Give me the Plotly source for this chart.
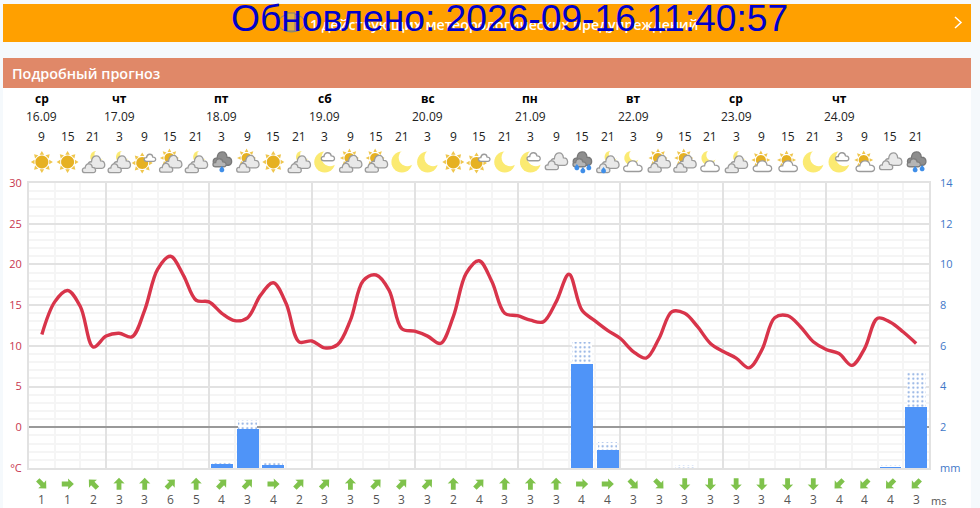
"""Подробный прогноз: температура, осадки, ветер (воссоздание графика)."""
import numpy as np
import plotly.graph_objects as go

W, H = 980, 508
PLOT_L, PLOT_R, PLOT_T, PLOT_B = 29, 929, 183, 468
FONT = "Open Sans"

# forecast steps (6 h apart, first one = 16.09 9:00)
hour_labels = [9, 15, 21, 3, 9, 15, 21, 3, 9, 15, 21, 3, 9, 15, 21, 3, 9, 15,
               21, 3, 9, 15, 21, 3, 9, 15, 21, 3, 9, 15, 21, 3, 9, 15, 21]
day_names = ["ср", "чт", "пт", "сб", "вс", "пн", "вт", "ср", "чт"]
day_dates = ["16.09", "17.09", "18.09", "19.09", "20.09", "21.09", "22.09", "23.09", "24.09"]
day_steps = [0, 3, 7, 11, 15, 19, 23, 27, 31]

# temperature, every 3 h
temperature = [11.4, 15.4, 16.8, 14.8, 9.85, 11.2, 11.55, 11.1, 14.4, 19.4, 21.0, 18.7,
               15.6, 15.4, 14.0, 13.1, 13.45, 16.2, 17.75, 15.2, 10.5, 10.6, 9.75, 10.15,
               13.15, 18.0, 18.7, 16.85, 12.1, 11.8, 11.2, 10.3, 13.6, 18.9, 20.45, 17.9,
               14.0, 13.7, 13.15, 12.95, 15.4, 18.8, 14.4, 13.1, 11.9, 10.9, 9.3, 8.5,
               10.9, 14.2, 14.0, 12.35, 10.3, 9.3, 8.5, 7.3, 9.5, 13.45, 13.7, 12.35,
               10.5, 9.55, 9.05, 7.6, 9.7, 13.4, 12.9, 11.7, 10.3]

# precipitation, mm: solid part and dotted part on top of it
rain_solid = [0, 0, 0, 0, 0, 0, 0, 0.2, 1.9, 0.15, 0, 0, 0, 0, 0, 0, 0, 0,
              0, 0, 0, 5.1, 0.9, 0, 0, 0, 0, 0, 0, 0, 0, 0, 0, 0.03, 3.0]
rain_dotted = [0, 0, 0, 0, 0, 0, 0, 0.1, 0.45, 0.2, 0, 0, 0, 0, 0, 0, 0, 0,
               0, 0, 0, 1.1, 0.4, 0, 0, 0.13, 0, 0, 0, 0, 0, 0, 0, 0.1, 1.7]

wind_speed = [1, 1, 2, 3, 3, 6, 5, 4, 3, 4, 2, 3, 3, 5, 3, 3, 2, 4,
              3, 3, 3, 4, 4, 3, 3, 3, 3, 3, 3, 4, 3, 4, 4, 4, 3]
wind_dir = [135, 90, 315, 0, 0, 45, 0, 45, 45, 90, 45, 45, 0, 45, 45, 45, 0, 45,
            0, 0, 0, 90, 90, 135, 135, 180, 180, 180, 180, 180, 180, 225, 225, 225, 225]
weather = ["sun", "sun", "night_clouds", "night_clouds", "sun_small_cloud", "sun_clouds",
           "night_clouds", "rain1", "sun_clouds", "sun", "night_clouds", "moon_small",
           "sun_clouds", "sun_clouds", "moon", "moon", "sun", "sun_small_cloud", "moon",
           "moon_small", "clouds", "rain3", "night_rain", "moon_cloud", "sun_clouds",
           "sun_clouds", "moon_cloud", "night_clouds", "sun_cloud", "sun_cloud", "moon",
           "moon_small", "sun_cloud", "clouds", "rain2"]

temp_ticks = [-5, 0, 5, 10, 15, 20, 25, 30]
temp_labels = ["°C", "0", "5", "10", "15", "20", "25", "30"]
rain_ticks = [0, 2, 4, 6, 8, 10, 12, 14]
rain_labels = ["mm", "2", "4", "6", "8", "10", "12", "14"]

step_hours = [i * 6 for i in range(len(hour_labels))]
temp_hours = [i * 3 for i in range(len(temperature))]

RED = "#d8344a"
SUN = "#e6b122"
RAY = "#efc64d"
MOON = "#fbea72"
CLOUD = "#e9e9e9"
CLOUD_EDGE = "#9b9b9b"
DARK = "#8e8e8e"
DROP = "#3f8ee8"
ARROW = "#7fc24c"


def px_x(x):
    return x / W


def px_y(y):
    return 1 - y / H


def poly(points):
    return "M" + "L".join(f"{x:.2f},{y:.2f}" for x, y in points) + "Z"


def circle(cx, cy, r, n=28):
    a = np.linspace(0, 2 * np.pi, n, endpoint=False)
    return poly(zip(cx + r * np.cos(a), cy + r * np.sin(a)))


def cloud(cx, cy, w, h):
    pts = [(-0.42, -0.5), (-0.78, -0.5), (-0.78, 0.12), (-0.42, 0.06), (-0.36, 0.72), (0.24, 0.72),
           (0.3, 0.14), (0.72, 0.16), (0.72, -0.5), (0.4, -0.5)]
    s = [(cx + x * w / 1.5 * 1.0, cy + y * h / 1.2) for x, y in pts]
    f = lambda p: f"{p[0]:.2f},{p[1]:.2f}"
    return (f"M{f(s[0])}C{f(s[1])} {f(s[2])} {f(s[3])}C{f(s[4])} {f(s[5])} {f(s[6])}"
            f"C{f(s[7])} {f(s[8])} {f(s[9])}Z")


def drop(cx, cy, r=2.4):
    a = np.linspace(-0.2 * np.pi, 1.2 * np.pi, 12) + np.pi
    pts = [(cx, cy + r * 1.7)] + list(zip(cx + r * np.cos(a), cy + r * np.sin(a)))
    return poly(pts)


shapes = []


def add(path, hour, yc, fill, edge=None, width=1.3):
    shapes.append(dict(type="path", path=path, xref="x", yref="paper", xsizemode="pixel",
                       ysizemode="pixel", xanchor=hour, yanchor=px_y(yc), fillcolor=fill,
                       line=dict(color=edge or fill, width=width if edge else 0), layer="above"))


def draw_sun(hour, cx=0.0, cy=0.0, r=6.5):
    rays = ""
    for a in np.arange(8) * np.pi / 4:
        rays += poly([(cx + (r + 4.5) * np.cos(a), cy + (r + 4.5) * np.sin(a)),
                      (cx + (r + 1.2) * np.cos(a + 0.3), cy + (r + 1.2) * np.sin(a + 0.3)),
                      (cx + (r + 1.2) * np.cos(a - 0.3), cy + (r + 1.2) * np.sin(a - 0.3))])
    add(rays, hour, 162, RAY)
    add(circle(cx, cy, r), hour, 162, SUN)


def draw_moon(hour, cx=0.0, cy=0.0, r=10.5):
    add(circle(cx, cy, r), hour, 162, MOON)
    add(circle(cx + r * 0.52, cy + r * 0.42, r * 0.82), hour, 162, "white")


def draw_clouds(hour, fill=CLOUD, edge=CLOUD_EDGE, dy=0.0):
    add(cloud(3.5, 1.5 + dy, 19, 14), hour, 162, fill, edge)
    add(cloud(-4, -4.5 + dy, 15, 10), hour, 162, fill, edge)


def draw_icon(kind, hour):
    if kind == "sun":
        draw_sun(hour)
    elif kind == "moon":
        draw_moon(hour)
    elif kind == "sun_small_cloud":
        draw_sun(hour, -2.5, -1, 6)
        add(cloud(5.5, 4, 13, 8), hour, 162, "white", CLOUD_EDGE)
    elif kind == "sun_clouds":
        draw_sun(hour, -1, 4, 5)
        draw_clouds(hour, dy=-1.5)
    elif kind == "sun_cloud":
        draw_sun(hour, -1, 2, 5)
        add(cloud(1, -4.5, 21, 12), hour, 162, "white", CLOUD_EDGE)
    elif kind in ("night_clouds", "night_rain"):
        draw_moon(hour, 3, 5, 6)
        draw_clouds(hour, dy=-2)
        if kind == "night_rain":
            add(drop(-4, -9), hour, 162, DROP)
    elif kind == "moon_small":
        draw_moon(hour)
        add(cloud(3.5, 5, 15, 9), hour, 162, "white", CLOUD_EDGE)
    elif kind == "moon_cloud":
        draw_moon(hour, -2, 4, 7)
        add(cloud(0, -4.5, 21, 12), hour, 162, "white", CLOUD_EDGE)
    elif kind == "clouds":
        draw_clouds(hour, dy=1)
    elif kind.startswith("rain"):
        add(cloud(1, 3, 21, 15), hour, 162, DARK, "#777777")
        add(cloud(-2, -1, 15, 9), hour, 162, "#b5b5b5", "#808080")
        spots = {"rain1": [(0, -8)], "rain2": [(-1, -8), (6, -7)], "rain3": [(-5, -6), (1, -9), (7, -6)]}
        for x, y in spots[kind]:
            add(drop(x, y), hour, 162, DROP)


def draw_arrow(hour, angle):
    a = np.radians(angle)
    pts = [(0, 6.3), (-5.6, 0.4), (-2.4, 0.7), (-2.4, -5.8), (2.4, -5.8), (2.4, 0.7), (5.6, 0.4)]
    add(poly((x * np.cos(a) + y * np.sin(a), -x * np.sin(a) + y * np.cos(a)) for x, y in pts),
        hour, 484, ARROW)


def rect(x0, y0, x1, y1, color):
    return dict(type="rect", xref="paper", yref="paper", x0=px_x(x0), x1=px_x(x1), y0=px_y(y1), y1=px_y(y0),
                fillcolor=color, line_width=0, layer="below")


def label(x, y, text, size=12, color="#222222", xref="x", anchor="center", weight=400, family=FONT):
    return dict(x=x if xref == "x" else px_x(x), y=px_y(y), xref=xref, yref="paper", text=text, showarrow=False,
                xanchor=anchor, yanchor="middle", font=dict(size=size, color=color, family=family, weight=weight))


shapes += [rect(3, 88, 971, 508, "white"), rect(3, 4, 971, 42, "#ffa000"), rect(3, 58, 971, 88, "#e08868")]
for kind, hour in zip(weather, step_hours):
    draw_icon(kind, hour)
for angle, hour in zip(wind_dir, step_hours):
    draw_arrow(hour, angle)

# banner icon and chevron
shapes.append(dict(type="circle", xref="paper", yref="paper", x0=px_x(278), x1=px_x(305), y0=px_y(32), y1=px_y(14),
                   fillcolor="rgba(0,0,0,0)", line=dict(color="#7a8a80", width=1), layer="above"))
shapes.append(dict(type="rect", xref="paper", yref="paper", x0=px_x(286), x1=px_x(295), y0=px_y(31), y1=px_y(13),
                   fillcolor="#e0b040", line=dict(color="#7a7f80", width=1), layer="above"))
shapes.append(dict(type="path", xref="paper", yref="paper", layer="above", line=dict(color="white", width=1.5),
                   path=f"M{px_x(955)},{px_y(17)}L{px_x(961)},{px_y(22.5)}L{px_x(955)},{px_y(28)}"))

annotations = [
    label(308, 24, "1 действующих метеорологических предупреждений", 14.2, "white", "paper", "left", 600),
    label(509, 18, "Обновлено: 2026-09-16 11:40:57", 37.2, "#0000cc", "paper", family="Liberation Sans"),
    label(10, 74, "Подробный прогноз", 14.4, "white", "paper", "left", 600),
    label(938, 500, "ms", 11, "#555555", "paper", "center"),
]
for step, name, date in zip(day_steps, day_names, day_dates):
    annotations.append(label(step_hours[step], 98.5, name, 12, "#000000", weight=700))
    annotations.append(label(step_hours[step], 116, date, 12, "#222222"))
for hour, text in zip(step_hours, hour_labels):
    annotations.append(label(hour, 136.5, str(text), 12, "#222222"))
for hour, speed in zip(step_hours, wind_speed):
    annotations.append(label(hour, 499.5, str(speed), 12, "#555555"))

fig = go.Figure()
fig.add_trace(go.Bar(x=step_hours, y=rain_solid, yaxis="y2", width=5.1, marker=dict(color="#4f94f8", line_width=0)))
fig.add_trace(go.Bar(x=step_hours, y=rain_dotted, yaxis="y2", width=4.5,
                     marker=dict(color="white", line_width=0,
                                 pattern=dict(shape=".", fgcolor="#0a4fc0", bgcolor="white", size=4.5, solidity=0.17))))
fig.add_trace(go.Scatter(x=temp_hours, y=temperature, mode="lines",
                         line=dict(color=RED, width=3.4, shape="spline", smoothing=1.0)))

fig.update_layout(
    width=W, height=H, margin=dict(l=0, r=0, t=0, b=0, autoexpand=False), autosize=False,
    paper_bgcolor="#f5f9fc", plot_bgcolor="white", showlegend=False, barmode="stack",
    font=dict(family=FONT, size=11),
    shapes=shapes, annotations=annotations,
    xaxis=dict(domain=[px_x(PLOT_L), px_x(PLOT_R)], range=[-3, 207], tick0=15, dtick=24, showticklabels=False,
               showgrid=True, gridcolor="#e2e2e2", gridwidth=2, zeroline=False,
               showline=True, linecolor="#e2e2e2", linewidth=2, mirror=True,
               minor=dict(tick0=-3, dtick=6, showgrid=True, gridcolor="#f5f5f5", gridwidth=1.5)),
    yaxis=dict(domain=[px_y(PLOT_B), px_y(PLOT_T)], range=[-5, 30], tickmode="array", tickvals=temp_ticks,
               ticktext=temp_labels, tickfont=dict(color="#c8364e", size=11), ticklabelstandoff=3,
               showgrid=True, gridcolor="#e2e2e2", gridwidth=2, zeroline=True, zerolinecolor="#999999",
               zerolinewidth=2, showline=True, linecolor="#e2e2e2", linewidth=2, mirror=True,
               minor=dict(tick0=-5, dtick=1, showgrid=True, gridcolor="#f5f5f5", gridwidth=1.5)),
    yaxis2=dict(overlaying="y", side="right", range=[0, 14], tickmode="array", tickvals=rain_ticks,
                ticktext=rain_labels, tickfont=dict(color="#3f78c8", size=11), ticklabelstandoff=10,
                showgrid=False, zeroline=False),
)

fig.write_html("out.html", config=dict(displayModeBar=False),
               post_script="document.body.style.margin='0';document.body.style.overflow='hidden';")
